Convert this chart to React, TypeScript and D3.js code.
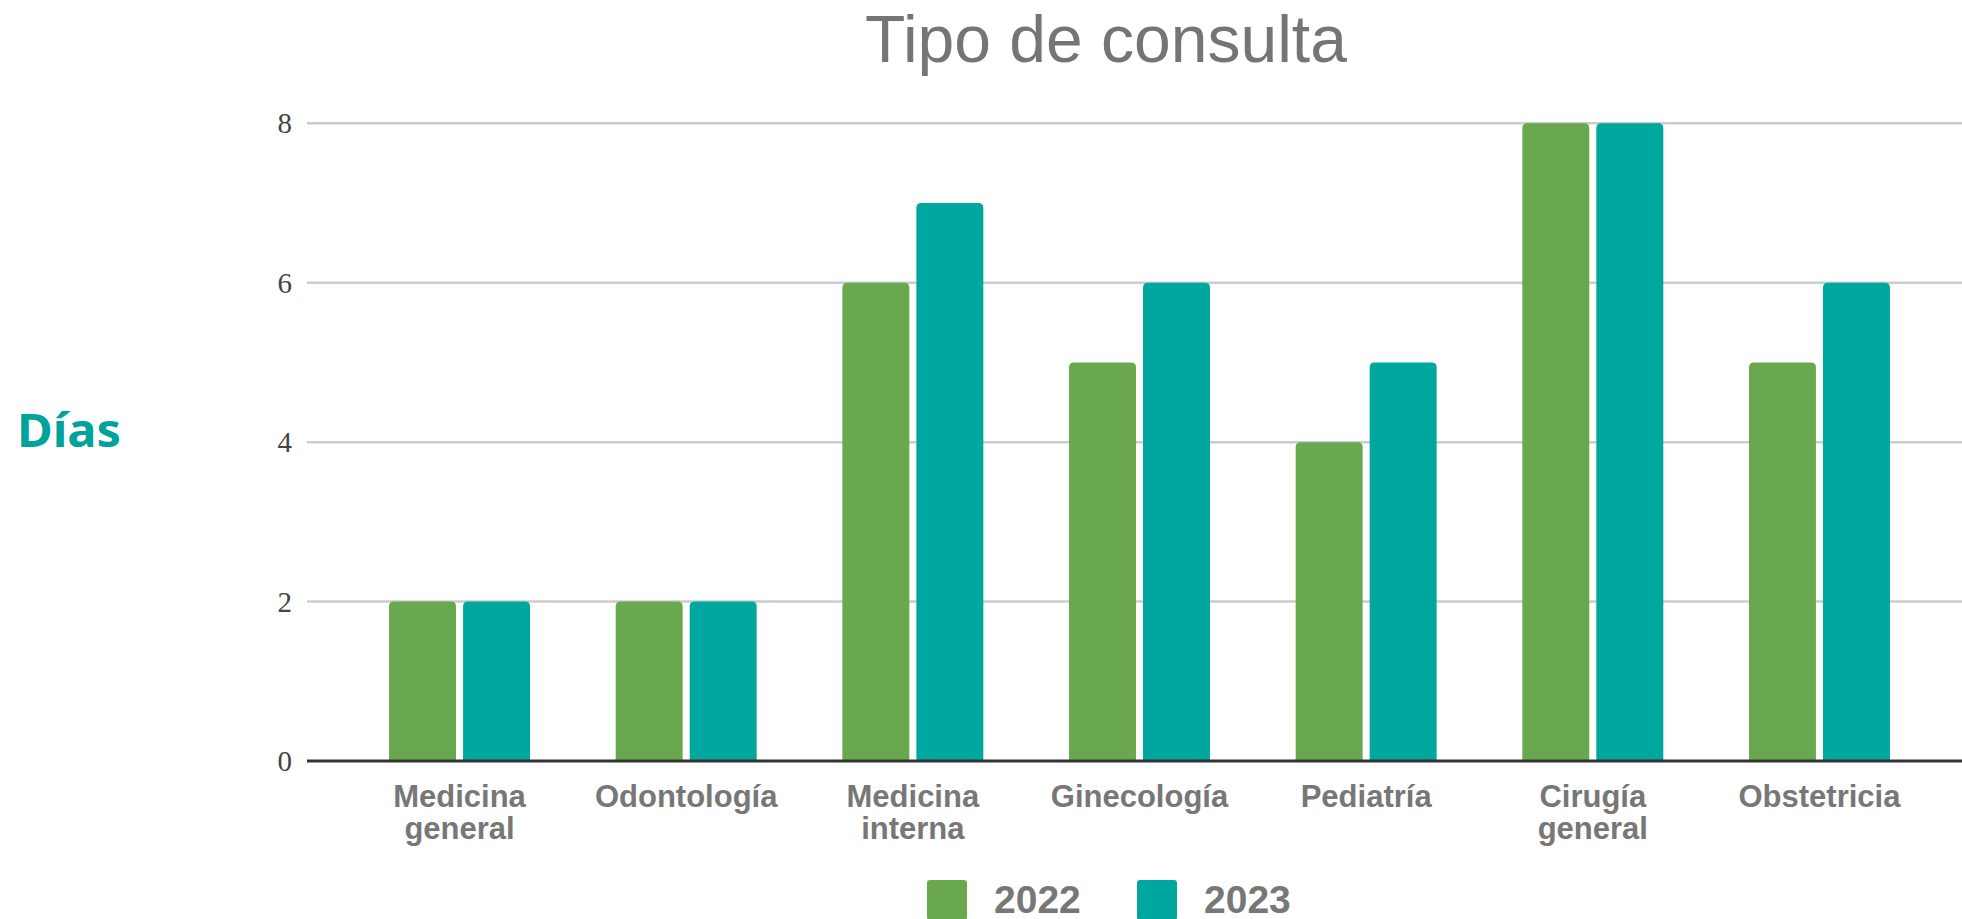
import React from "react";
import * as d3 from "d3";

const categories = [
  "Medicina general",
  "Odontología",
  "Medicina interna",
  "Ginecología",
  "Pediatría",
  "Cirugía general",
  "Obstetricia",
];
const labelLines = [
  ["Medicina", "general"],
  ["Odontología"],
  ["Medicina", "interna"],
  ["Ginecología"],
  ["Pediatría"],
  ["Cirugía", "general"],
  ["Obstetricia"],
];
const years = ["2022", "2023"];
const values2022 = [2, 2, 6, 5, 4, 8, 5];
const values2023 = [2, 2, 7, 6, 5, 8, 6];
const yTicks = [0, 2, 4, 6, 8];
const colors = ["#6aa84f", "#00a79f"];

const W = 1962;
const H = 919;

// rect with only the top corners rounded
function topRounded(x: number, y: number, w: number, h: number, r: number) {
  r = Math.min(r, h, w / 2);
  return `M${x},${y + h}V${y + r}Q${x},${y} ${x + r},${y}H${x + w - r}Q${x + w},${y} ${x + w},${y + r}V${y + h}Z`;
}

export default function App() {
  const left = 307;
  const y = d3.scaleLinear().domain([0, 8]).range([761, 123.3]);
  const x = d3
    .scaleBand()
    .domain(categories)
    .range([left, 1972])
    .paddingInner(0.378)
    .paddingOuter(0.362);
  const x1 = d3
    .scaleBand()
    .domain(years)
    .range([0, x.bandwidth()])
    .paddingInner(0.095);

  const series = [values2022, values2023];

  return (
    <svg
      width={W}
      height={H}
      style={{ position: "absolute", left: 0, top: 0, background: "#fff" }}
    >
      <text
        x={1106}
        y={62}
        textAnchor="middle"
        fontFamily="'Liberation Sans', Arial, sans-serif"
        fontSize={66}
        fill="#757575"
      >
        Tipo de consulta
      </text>

      <text
        x={17}
        y={447}
        fontFamily="'Noto Sans', 'Open Sans', sans-serif"
        fontWeight={700}
        fontSize={47}
        fill="#00a39a"
        textLength={104}
        lengthAdjust="spacingAndGlyphs"
      >
        Días
      </text>

      {yTicks.map((t) => (
        <g key={t}>
          {t !== 0 && (
            <line
              x1={left}
              x2={W}
              y1={y(t)}
              y2={y(t)}
              stroke="#cccccc"
              strokeWidth={2.5}
            />
          )}
          <text
            x={292}
            y={y(t)}
            dy="0.35em"
            textAnchor="end"
            fontFamily="'Liberation Serif', 'Times New Roman', serif"
            fontSize={29}
            fill="#444"
          >
            {t}
          </text>
        </g>
      ))}

      {categories.map((c, i) => (
        <g key={c} transform={`translate(${x(c)},0)`}>
          {years.map((yr, j) => {
            const v = series[j][i];
            return (
              <path
                key={yr}
                d={topRounded(x1(yr)!, y(v), x1.bandwidth(), y(0) - y(v), 5)}
                fill={colors[j]}
              />
            );
          })}
        </g>
      ))}

      <line
        x1={left}
        x2={W}
        y1={y(0)}
        y2={y(0)}
        stroke="#333"
        strokeWidth={3}
      />

      {categories.map((c, i) => (
        <text
          key={c}
          x={x(c)! + x.bandwidth() / 2}
          y={807}
          textAnchor="middle"
          fontFamily="'Liberation Sans', Arial, sans-serif"
          fontWeight="bold"
          fontSize={31}
          fill="#777"
        >
          {labelLines[i].map((ln, k) => (
            <tspan key={k} x={x(c)! + x.bandwidth() / 2} dy={k === 0 ? 0 : 32}>
              {ln}
            </tspan>
          ))}
        </text>
      ))}

      {years.map((yr, j) => (
        <g key={yr} transform={`translate(${927 + j * 210},880)`}>
          <rect width={40} height={40} rx={3} fill={colors[j]} />
          <text
            x={67}
            y={33}
            fontFamily="'Liberation Sans', Arial, sans-serif"
            fontWeight="bold"
            fontSize={39}
            fill="#777"
          >
            {yr}
          </text>
        </g>
      ))}
    </svg>
  );
}
